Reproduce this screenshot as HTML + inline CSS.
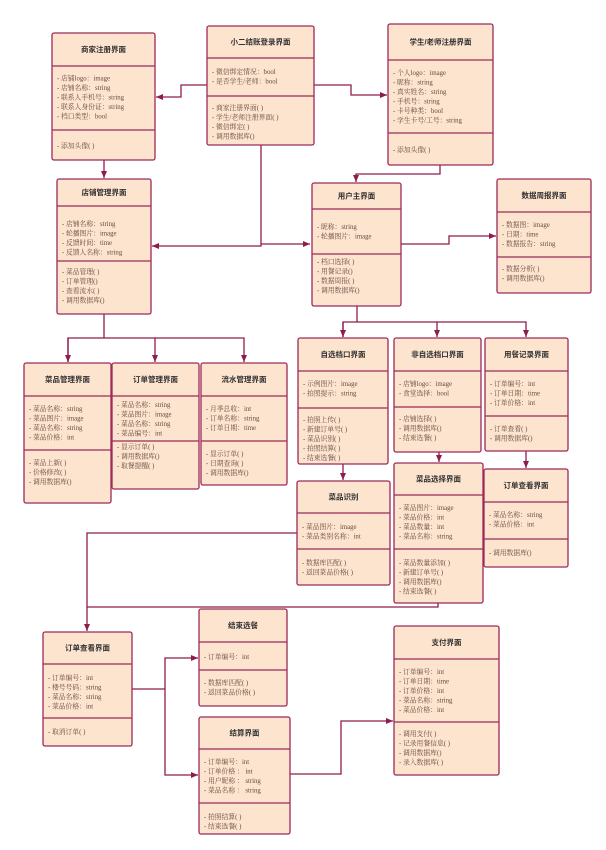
<!DOCTYPE html>
<html><head><meta charset="utf-8"><style>
html,body{margin:0;padding:0;background:#fff}
svg{display:block}
.b{fill:#fde4cf;stroke:#9c2a58;stroke-width:1.3}
.d{stroke:#9c2a58;stroke-width:1.2}
.c{fill:none;stroke:#8e1c4c;stroke-width:1.3}
.t{font-family:"Liberation Sans","Noto Sans CJK SC",sans-serif;font-size:7.5px;font-weight:bold;fill:#333;text-anchor:middle;dominant-baseline:central}
.a{font-family:"Liberation Serif","Noto Serif CJK SC",serif;font-size:6.8px;fill:#6a4a40;dominant-baseline:central}
</style></head><body>
<svg width="606" height="850" viewBox="0 0 606 850" xmlns="http://www.w3.org/2000/svg">
<defs><marker id="ar" markerWidth="8" markerHeight="8" refX="7" refY="4" orient="auto" markerUnits="userSpaceOnUse"><path d="M0,1 L7,4 L0,7 Z" fill="#8e1c4c"/></marker></defs>

<!-- connectors -->
<polyline class="c" points="207,85 181,85 181,97 156,97" marker-end="url(#ar)"/>
<polyline class="c" points="104,160 104,178" marker-end="url(#ar)"/>
<polyline class="c" points="261,145 261,246 152,246" marker-end="url(#ar)"/>
<polyline class="c" points="261,244 310,244" marker-end="url(#ar)"/>
<polyline class="c" points="314,85 351,85 351,95 387,95" marker-end="url(#ar)"/>
<polyline class="c" points="440,165 440,174 356,174 356,182" marker-end="url(#ar)"/>
<polyline class="c" points="401,244 449,244 449,236 496,236" marker-end="url(#ar)"/>
<polyline class="c" points="104,314 104,338"/>
<polyline class="c" points="68,362 68,338 244,338 244,362" marker-end="url(#ar)"/>
<polyline class="c" points="155,338 155,362" marker-end="url(#ar)"/>
<polyline class="c" points="68,338 68,362" marker-end="url(#ar)"/>
<polyline class="c" points="357,306 357,322"/>
<polyline class="c" points="343,337 343,322 526,322 526,337" marker-end="url(#ar)"/>
<polyline class="c" points="343,322 343,337" marker-end="url(#ar)"/>
<polyline class="c" points="437,322 437,337" marker-end="url(#ar)"/>
<polyline class="c" points="343,464 343,480" marker-end="url(#ar)"/>
<polyline class="c" points="439,452 439,462" marker-end="url(#ar)"/>
<polyline class="c" points="526,451 526,468" marker-end="url(#ar)"/>
<polyline class="c" points="438,603 438,607 87,607"/>
<polyline class="c" points="297,533 87,533 87,631" marker-end="url(#ar)"/>
<polyline class="c" points="132,689 165,689"/>
<polyline class="c" points="165,689 165,658 198,658" marker-end="url(#ar)"/>
<polyline class="c" points="165,689 165,775 198,775" marker-end="url(#ar)"/>
<polyline class="c" points="290,774 341,774 341,721 393,721" marker-end="url(#ar)"/>

<!-- 商家注册界面 -->
<rect class="b" x="52" y="33" width="103" height="127" rx="2"/>
<line class="d" x1="52" y1="66" x2="155" y2="66"/><line class="d" x1="52" y1="130" x2="155" y2="130"/>
<text class="t" x="103.5" y="49.5">商家注册界面</text>
<text class="a" x="57" y="78.7"><tspan x="57">-  店铺logo：image</tspan><tspan x="57" dy="9.5">-  店铺名称：string</tspan><tspan x="57" dy="9.5">-  联系人手机号：string</tspan><tspan x="57" dy="9.5">-  联系人身份证：string</tspan><tspan x="57" dy="9.5">-  档口类型：bool</tspan></text>
<text class="a" x="57" y="146"><tspan x="57">-  添加头像( )</tspan></text>

<!-- 小二结账登录界面 -->
<rect class="b" x="207" y="26" width="107" height="119" rx="2"/>
<line class="d" x1="207" y1="58" x2="314" y2="58"/><line class="d" x1="207" y1="96" x2="314" y2="96"/>
<text class="t" x="260.5" y="42">小二结账登录界面</text>
<text class="a" x="212" y="72"><tspan x="212">-  微信绑定情况：bool</tspan><tspan x="212" dy="9.5">-  是否学生/老师：bool</tspan></text>
<text class="a" x="212" y="108"><tspan x="212">-  商家注册界面( )</tspan><tspan x="212" dy="9.5">-  学生/老师注册界面( )</tspan><tspan x="212" dy="9.5">-  微信绑定( )</tspan><tspan x="212" dy="9.5">-  调用数据库()</tspan></text>

<!-- 学生/老师注册界面 -->
<rect class="b" x="388" y="24" width="105" height="141" rx="2"/>
<line class="d" x1="388" y1="60" x2="493" y2="60"/><line class="d" x1="388" y1="133" x2="493" y2="133"/>
<text class="t" x="440.5" y="42">学生/老师注册界面</text>
<text class="a" x="393" y="73"><tspan x="393">-  个人logo：image</tspan><tspan x="393" dy="9.5">-  昵称：string</tspan><tspan x="393" dy="9.5">-  真实姓名：string</tspan><tspan x="393" dy="9.5">-  手机号：string</tspan><tspan x="393" dy="9.5">-  卡号种类：bool</tspan><tspan x="393" dy="9.5">-  学生卡号/工号：string</tspan></text>
<text class="a" x="393" y="150"><tspan x="393">-  添加头像( )</tspan></text>

<!-- 店铺管理界面 -->
<rect class="b" x="57" y="179" width="94" height="135" rx="2"/>
<line class="d" x1="57" y1="206" x2="151" y2="206"/><line class="d" x1="57" y1="261" x2="151" y2="261"/>
<text class="t" x="104" y="192.5">店铺管理界面</text>
<text class="a" x="62" y="224"><tspan x="62">-  店铺名称：string</tspan><tspan x="62" dy="9.5">-  轮播图片：image</tspan><tspan x="62" dy="9.5">-  反馈时间：time</tspan><tspan x="62" dy="9.5">-  反馈人名称：string</tspan></text>
<text class="a" x="62" y="272"><tspan x="62">-  菜品管理( )</tspan><tspan x="62" dy="9.5">-  订单管理()</tspan><tspan x="62" dy="9.5">-  查看流水( )</tspan><tspan x="62" dy="9.5">-  调用数据库()</tspan></text>

<!-- 用户主界面 -->
<rect class="b" x="312" y="183" width="89" height="123" rx="2"/>
<line class="d" x1="312" y1="209" x2="401" y2="209"/><line class="d" x1="312" y1="254" x2="401" y2="254"/>
<text class="t" x="356.5" y="196">用户主界面</text>
<text class="a" x="317" y="227"><tspan x="317">-  昵称：string</tspan><tspan x="317" dy="9.5">-  轮播图片：image</tspan></text>
<text class="a" x="317" y="262"><tspan x="317">-  档口选择( )</tspan><tspan x="317" dy="9.5">-  用餐记录()</tspan><tspan x="317" dy="9.5">-  数据周报( )</tspan><tspan x="317" dy="9.5">-  调用数据库()</tspan></text>

<!-- 数据周报界面 -->
<rect class="b" x="497" y="179" width="94" height="114" rx="2"/>
<line class="d" x1="497" y1="212" x2="591" y2="212"/><line class="d" x1="497" y1="257" x2="591" y2="257"/>
<text class="t" x="544" y="195.5">数据周报界面</text>
<text class="a" x="502" y="225"><tspan x="502">-  数据图：image</tspan><tspan x="502" dy="9.5">-  日期：time</tspan><tspan x="502" dy="9.5">-  数据报告：string</tspan></text>
<text class="a" x="502" y="269"><tspan x="502">-  数据分析( )</tspan><tspan x="502" dy="9.5">-  调用数据库()</tspan></text>

<!-- 菜品管理界面 -->
<rect class="b" x="24" y="363" width="87" height="140" rx="2"/>
<line class="d" x1="24" y1="396" x2="111" y2="396"/><line class="d" x1="24" y1="450" x2="111" y2="450"/>
<text class="t" x="67.5" y="379.5">菜品管理界面</text>
<text class="a" x="29" y="409"><tspan x="29">-  菜品名称：string</tspan><tspan x="29" dy="9.5">-  菜品图片：image</tspan><tspan x="29" dy="9.5">-  菜品名称：string</tspan><tspan x="29" dy="9.5">-  菜品价格：int</tspan></text>
<text class="a" x="29" y="463"><tspan x="29">-  菜品上新( )</tspan><tspan x="29" dy="9.5">-  价格修改( )</tspan><tspan x="29" dy="9.5">-  调用数据库()</tspan></text>

<!-- 订单管理界面 -->
<rect class="b" x="112" y="363" width="87" height="126" rx="2"/>
<line class="d" x1="112" y1="396" x2="199" y2="396"/><line class="d" x1="112" y1="441" x2="199" y2="441"/>
<text class="t" x="155.5" y="379.5">订单管理界面</text>
<text class="a" x="117" y="405"><tspan x="117">-  菜品名称：string</tspan><tspan x="117" dy="9.5">-  菜品图片：image</tspan><tspan x="117" dy="9.5">-  菜品名称：string</tspan><tspan x="117" dy="9.5">-  菜品编号：int</tspan></text>
<text class="a" x="117" y="447"><tspan x="117">-  显示订单( )</tspan><tspan x="117" dy="9.5">-  调用数据库()</tspan><tspan x="117" dy="9.5">-  取餐提醒( )</tspan></text>

<!-- 流水管理界面 -->
<rect class="b" x="201" y="363" width="86" height="122" rx="2"/>
<line class="d" x1="201" y1="396" x2="287" y2="396"/><line class="d" x1="201" y1="441" x2="287" y2="441"/>
<text class="t" x="244" y="379.5">流水管理界面</text>
<text class="a" x="206" y="409"><tspan x="206">-  月季总收：int</tspan><tspan x="206" dy="9.5">-  订单名称：string</tspan><tspan x="206" dy="9.5">-  订单日期：time</tspan></text>
<text class="a" x="206" y="454"><tspan x="206">-  显示订单( )</tspan><tspan x="206" dy="9.5">-  日期查询( )</tspan><tspan x="206" dy="9.5">-  调用数据库()</tspan></text>

<!-- 自选档口界面 -->
<rect class="b" x="298" y="338" width="90" height="126" rx="2"/>
<line class="d" x1="298" y1="371" x2="388" y2="371"/><line class="d" x1="298" y1="408" x2="388" y2="408"/>
<text class="t" x="343" y="354.5">自选档口界面</text>
<text class="a" x="303" y="384"><tspan x="303">-  示例图片：image</tspan><tspan x="303" dy="9.5">-  拍照提示：string</tspan></text>
<text class="a" x="303" y="420"><tspan x="303">-  拍照上传( )</tspan><tspan x="303" dy="9.5">-  新建订单号( )</tspan><tspan x="303" dy="9.5">-  菜品识别( )</tspan><tspan x="303" dy="9.5">-  拍照结算( )</tspan><tspan x="303" dy="9.5">-  结束选餐( )</tspan></text>

<!-- 非自选档口界面 -->
<rect class="b" x="394" y="338" width="87" height="114" rx="2"/>
<line class="d" x1="394" y1="371" x2="481" y2="371"/><line class="d" x1="394" y1="407" x2="481" y2="407"/>
<text class="t" x="437.5" y="354.5">非自选档口界面</text>
<text class="a" x="399" y="384"><tspan x="399">-  店铺logo：image</tspan><tspan x="399" dy="9.5">-  食堂选择：bool</tspan></text>
<text class="a" x="399" y="419"><tspan x="399">-  店铺选择( )</tspan><tspan x="399" dy="9.5">-  调用数据库()</tspan><tspan x="399" dy="9.5">-  结束选餐( )</tspan></text>

<!-- 用餐记录界面 -->
<rect class="b" x="485" y="338" width="83" height="113" rx="2"/>
<line class="d" x1="485" y1="371" x2="568" y2="371"/><line class="d" x1="485" y1="416" x2="568" y2="416"/>
<text class="t" x="526.5" y="354.5">用餐记录界面</text>
<text class="a" x="490" y="384"><tspan x="490">-  订单编号：int</tspan><tspan x="490" dy="9.5">-  订单日期：time</tspan><tspan x="490" dy="9.5">-  订单价格：int</tspan></text>
<text class="a" x="490" y="429"><tspan x="490">-  订单查看( )</tspan><tspan x="490" dy="9.5">-  调用数据库()</tspan></text>

<!-- 菜品识别 -->
<rect class="b" x="297" y="481" width="93" height="104" rx="2"/>
<line class="d" x1="297" y1="513" x2="390" y2="513"/><line class="d" x1="297" y1="549" x2="390" y2="549"/>
<text class="t" x="343.5" y="497">菜品识别</text>
<text class="a" x="302" y="527"><tspan x="302">-  菜品图片：image</tspan><tspan x="302" dy="9.5">-  菜品类别名称：int</tspan></text>
<text class="a" x="302" y="563"><tspan x="302">-  数据库匹配( )</tspan><tspan x="302" dy="9.5">-  返回菜品价格( )</tspan></text>

<!-- 菜品选择界面 -->
<rect class="b" x="394" y="463" width="89" height="140" rx="2"/>
<line class="d" x1="394" y1="495" x2="483" y2="495"/><line class="d" x1="394" y1="549" x2="483" y2="549"/>
<text class="t" x="438.5" y="479">菜品选择界面</text>
<text class="a" x="399" y="508"><tspan x="399">-  菜品图片：image</tspan><tspan x="399" dy="9.5">-  菜品价格：int</tspan><tspan x="399" dy="9.5">-  菜品数量：int</tspan><tspan x="399" dy="9.5">-  菜品名称：string</tspan></text>
<text class="a" x="399" y="563"><tspan x="399">-  菜品数量添加( )</tspan><tspan x="399" dy="9.5">-  新建订单号( )</tspan><tspan x="399" dy="9.5">-  调用数据库()</tspan><tspan x="399" dy="9.5">-  结束选餐( )</tspan></text>

<!-- 订单查看界面 right -->
<rect class="b" x="484" y="469" width="84" height="98" rx="2"/>
<line class="d" x1="484" y1="502" x2="568" y2="502"/><line class="d" x1="484" y1="539" x2="568" y2="539"/>
<text class="t" x="526" y="485.5">订单查看界面</text>
<text class="a" x="489" y="515"><tspan x="489">-  菜品名称：string</tspan><tspan x="489" dy="9.5">-  菜品价格：int</tspan></text>
<text class="a" x="489" y="553"><tspan x="489">-  调用数据库()</tspan></text>

<!-- 订单查看界面 left -->
<rect class="b" x="43" y="632" width="89" height="114" rx="2"/>
<line class="d" x1="43" y1="664" x2="132" y2="664"/><line class="d" x1="43" y1="718" x2="132" y2="718"/>
<text class="t" x="87.5" y="648">订单查看界面</text>
<text class="a" x="48" y="678"><tspan x="48">-  订单编号：int</tspan><tspan x="48" dy="9.5">-  楼号号码：string</tspan><tspan x="48" dy="9.5">-  菜品名称：string</tspan><tspan x="48" dy="9.5">-  菜品价格：int</tspan></text>
<text class="a" x="48" y="732"><tspan x="48">-  取消订单( )</tspan></text>

<!-- 结束选餐 -->
<rect class="b" x="199" y="609" width="88" height="97" rx="2"/>
<line class="d" x1="199" y1="642" x2="287" y2="642"/><line class="d" x1="199" y1="670" x2="287" y2="670"/>
<text class="t" x="243" y="625.5">结束选餐</text>
<text class="a" x="204" y="657"><tspan x="204">-  订单编号：int</tspan></text>
<text class="a" x="204" y="683"><tspan x="204">-  数据库匹配( )</tspan><tspan x="204" dy="9.5">-  返回菜品价格( )</tspan></text>

<!-- 结算界面 -->
<rect class="b" x="199" y="717" width="91" height="117" rx="2"/>
<line class="d" x1="199" y1="749" x2="290" y2="749"/><line class="d" x1="199" y1="803" x2="290" y2="803"/>
<text class="t" x="244.5" y="733">结算界面</text>
<text class="a" x="204" y="762"><tspan x="204">-  订单编号：int</tspan><tspan x="204" dy="9.5">-  订单价格 ： int</tspan><tspan x="204" dy="9.5">-  用户昵称 ： string</tspan><tspan x="204" dy="9.5">-  菜品名称 ： string</tspan></text>
<text class="a" x="204" y="817"><tspan x="204">-  拍照结算( )</tspan><tspan x="204" dy="9.5">-  结束选餐( )</tspan></text>

<!-- 支付界面 -->
<rect class="b" x="394" y="626" width="105" height="149" rx="2"/>
<line class="d" x1="394" y1="659" x2="499" y2="659"/><line class="d" x1="394" y1="722" x2="499" y2="722"/>
<text class="t" x="446.5" y="642.5">支付界面</text>
<text class="a" x="399" y="672"><tspan x="399">-  订单编号：int</tspan><tspan x="399" dy="9.5">-  订单日期：time</tspan><tspan x="399" dy="9.5">-  订单价格：int</tspan><tspan x="399" dy="9.5">-  菜品名称：string</tspan><tspan x="399" dy="9.5">-  菜品价格：int</tspan></text>
<text class="a" x="399" y="734"><tspan x="399">-  调用支付( )</tspan><tspan x="399" dy="9.5">-  记录用餐信息( )</tspan><tspan x="399" dy="9.5">-  调用数据库()</tspan><tspan x="399" dy="9.5">-  录入数据库( )</tspan></text>
</svg>
</body></html>
